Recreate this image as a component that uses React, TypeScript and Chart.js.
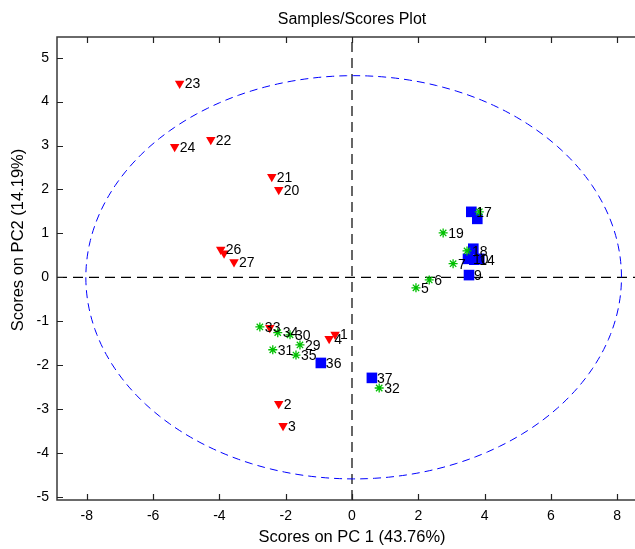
import React, { useEffect, useRef } from 'react';
import { Chart, registerables } from 'chart.js';

Chart.register(...registerables);

const CHART_TITLE = 'Samples/Scores Plot';
const X_TITLE = 'Scores on PC 1 (43.76%)';
const Y_TITLE = 'Scores on PC2 (14.19%)';

const xTicks = [-8, -6, -4, -2, 0, 2, 4, 6, 8];
const yTicks = [-5, -4, -3, -2, -1, 0, 1, 2, 3, 4, 5];
const xRange = [-8.9, 8.9];
const yRange = [-5.07, 5.47];

// Class 1: red down-triangles
const redLabels = ['23', '24', '22', '21', '20', '26', '', '27', '2', '3', '1', '4', ''];
const redX = [-5.2, -5.35, -4.26, -2.42, -2.21, -3.96, -3.86, -3.56, -2.21, -2.08, -0.51, -0.69, -2.48];
const redY = [4.41, 2.97, 3.13, 2.29, 1.99, 0.63, 0.55, 0.35, -2.88, -3.38, -1.3, -1.4, -1.15];

// Class 2: green asterisks
const greenLabels = ['', '19', '18', '7', '6', '5', '33', '34', '30', '29', '31', '35', '32'];
const greenX = [3.84, 2.75, 3.47, 3.05, 2.33, 1.93, -2.78, -2.24, -1.87, -1.57, -2.39, -1.69, 0.82];
const greenY = [1.49, 1.01, 0.6, 0.31, -0.06, -0.24, -1.13, -1.26, -1.31, -1.54, -1.65, -1.77, -2.52];

// Class 3: blue squares
const blueLabels = ['17', '', '', '10', '14', '', '9', '36', '37'];
const blueX = [3.6, 3.78, 3.66, 3.5, 3.69, 3.84, 3.53, -0.94, 0.6];
const blueY = [1.49, 1.33, 0.65, 0.42, 0.4, 0.42, 0.05, -1.95, -2.29];

// 95% confidence ellipse
const ellipseCenter = [0.05, 0];
const ellipseRadii = [8.08, 4.59];
const ELLIPSE_STEPS = 240;

const FONT = '"Liberation Sans", Arial, sans-serif';
const TICK_LEN = 6;
const Y_TITLE_POS = { x: 18, y: 240 };

function pts(xs: number[], ys: number[]) {
  return xs.map((x, i) => ({ x, y: ys[i] }));
}

function ellipsePoints() {
  const out: { x: number; y: number }[] = [];
  for (let i = 0; i <= ELLIPSE_STEPS; i++) {
    const t = (2 * Math.PI * i) / ELLIPSE_STEPS;
    out.push({
      x: ellipseCenter[0] + ellipseRadii[0] * Math.cos(t),
      y: ellipseCenter[1] + ellipseRadii[1] * Math.sin(t),
    });
  }
  return out;
}

const framePlugin = {
  id: 'matlabFrame',
  afterDraw(chart: any) {
    const { ctx, chartArea: a, scales } = chart;
    const xs = scales.x;
    const ys = scales.y;
    ctx.save();
    ctx.strokeStyle = '#3a3a3a';
    ctx.lineWidth = 1.5;
    ctx.strokeRect(a.left, a.top, a.right - a.left, a.bottom - a.top);
    ctx.lineWidth = 1.2;
    ctx.strokeStyle = '#222';
    ctx.beginPath();
    xTicks.forEach((v) => {
      const px = Math.round(xs.getPixelForValue(v)) + 0.5;
      ctx.moveTo(px, a.bottom);
      ctx.lineTo(px, a.bottom - TICK_LEN);
      ctx.moveTo(px, a.top);
      ctx.lineTo(px, a.top + TICK_LEN);
    });
    yTicks.forEach((v) => {
      const py = Math.round(ys.getPixelForValue(v)) + 0.5;
      ctx.moveTo(a.left, py);
      ctx.lineTo(a.left + TICK_LEN, py);
      ctx.moveTo(a.right, py);
      ctx.lineTo(a.right - TICK_LEN, py);
    });
    ctx.stroke();

    // y-axis title
    ctx.translate(Y_TITLE_POS.x, Y_TITLE_POS.y);
    ctx.rotate(-Math.PI / 2);
    ctx.font = '16.5px ' + FONT;
    ctx.fillStyle = '#000';
    ctx.textAlign = 'center';
    ctx.textBaseline = 'middle';
    ctx.fillText(Y_TITLE, 0, 0);
    ctx.restore();
  },
};

const labelPlugin = {
  id: 'pointLabels',
  afterDatasetsDraw(chart: any) {
    const ctx = chart.ctx;
    ctx.save();
    ctx.font = '14px ' + FONT;
    ctx.fillStyle = '#000';
    ctx.textBaseline = 'middle';
    ctx.textAlign = 'left';
    chart.data.datasets.forEach((ds: any, i: number) => {
      const labels: string[] | undefined = ds.pointLabels;
      if (!labels) return;
      const meta = chart.getDatasetMeta(i);
      meta.data.forEach((el: any, j: number) => {
        const t = labels[j];
        if (t) ctx.fillText(t, el.x + 5, el.y + 1);
      });
    });
    ctx.restore();
  },
};

export default function App() {
  const ref = useRef<HTMLCanvasElement | null>(null);

  useEffect(() => {
    const canvas = ref.current;
    if (!canvas) return;
    const chart = new Chart(canvas, {
      type: 'scatter',
      data: {
        datasets: [
          {
            label: 'green',
            data: pts(greenX, greenY),
            pointStyle: 'star',
            pointRadius: 4.5,
            borderColor: '#00c000',
            backgroundColor: '#00c000',
            borderWidth: 1.3,
            showLine: false,
            order: 1,
            pointLabels: greenLabels,
          } as any,
          {
            label: 'red',
            data: pts(redX, redY),
            pointStyle: 'triangle',
            rotation: 180,
            pointRadius: 5.5,
            borderColor: '#ff0000',
            backgroundColor: '#ff0000',
            borderWidth: 0,
            showLine: false,
            order: 2,
            pointLabels: redLabels,
          } as any,
          {
            label: 'blue',
            data: pts(blueX, blueY),
            pointStyle: 'rect',
            pointRadius: 7.5,
            borderColor: '#0000ff',
            backgroundColor: '#0000ff',
            borderWidth: 0,
            showLine: false,
            order: 3,
            pointLabels: blueLabels,
          } as any,
          {
            label: 'ellipse',
            type: 'line',
            data: ellipsePoints(),
            borderColor: '#0000ff',
            borderWidth: 1,
            borderDash: [8, 5],
            pointRadius: 0,
            fill: false,
            tension: 0,
            order: 10,
          } as any,
          {
            label: 'vzero',
            type: 'line',
            data: [
              { x: 0, y: yRange[0] },
              { x: 0, y: yRange[1] },
            ],
            borderColor: '#000',
            borderWidth: 1.2,
            borderDash: [10, 6],
            pointRadius: 0,
            order: 11,
          } as any,
          {
            label: 'hzero',
            type: 'line',
            data: [
              { x: xRange[0], y: 0 },
              { x: xRange[1], y: 0 },
            ],
            borderColor: '#000',
            borderWidth: 1.2,
            borderDash: [10, 6],
            pointRadius: 0,
            order: 11,
          } as any,
        ],
      },
      options: {
        responsive: false,
        animation: false,
        devicePixelRatio: 1,
        layout: { padding: { left: 0, right: 13, top: 0, bottom: 0 } },
        plugins: {
          legend: { display: false },
          tooltip: { enabled: false },
          title: {
            display: true,
            fullSize: false,
            text: CHART_TITLE,
            color: '#000',
            font: { size: 16, family: FONT, weight: 'normal' },
            padding: { top: 10.4, bottom: 7.4 },
          },
        },
        scales: {
          x: {
            type: 'linear',
            min: xRange[0],
            max: xRange[1],
            grid: { display: false, drawTicks: false },
            border: { display: false },
            ticks: {
              color: '#000',
              font: { size: 14, family: FONT },
              padding: 8,
              maxRotation: 0,
              autoSkip: false,
            },
            afterBuildTicks: (s: any) => {
              s.ticks = xTicks.map((v) => ({ value: v }));
            },
            afterFit: (s: any) => {
              s.height = 49;
            },
            title: {
              display: true,
              text: X_TITLE,
              color: '#000',
              font: { size: 16.5, family: FONT },
              padding: { top: 0, bottom: 2.1 },
            },
          },
          y: {
            type: 'linear',
            min: yRange[0],
            max: yRange[1],
            grid: { display: false, drawTicks: false },
            border: { display: false },
            ticks: {
              color: '#000',
              font: { size: 14, family: FONT },
              padding: 8,
              autoSkip: false,
            },
            afterBuildTicks: (s: any) => {
              s.ticks = yTicks.map((v) => ({ value: v }));
            },
            afterFit: (s: any) => {
              s.width = 57;
            },
            title: { display: false, text: Y_TITLE },
          },
        },
      } as any,
      plugins: [framePlugin, labelPlugin],
    });
    return () => chart.destroy();
  }, []);

  return (
    <div
      style={{
        position: 'fixed',
        left: 0,
        top: 0,
        width: 635,
        height: 549,
        overflow: 'hidden',
        background: '#fff',
      }}
    >
      <canvas ref={ref} width={660} height={549} style={{ display: 'block' }} />
    </div>
  );
}
